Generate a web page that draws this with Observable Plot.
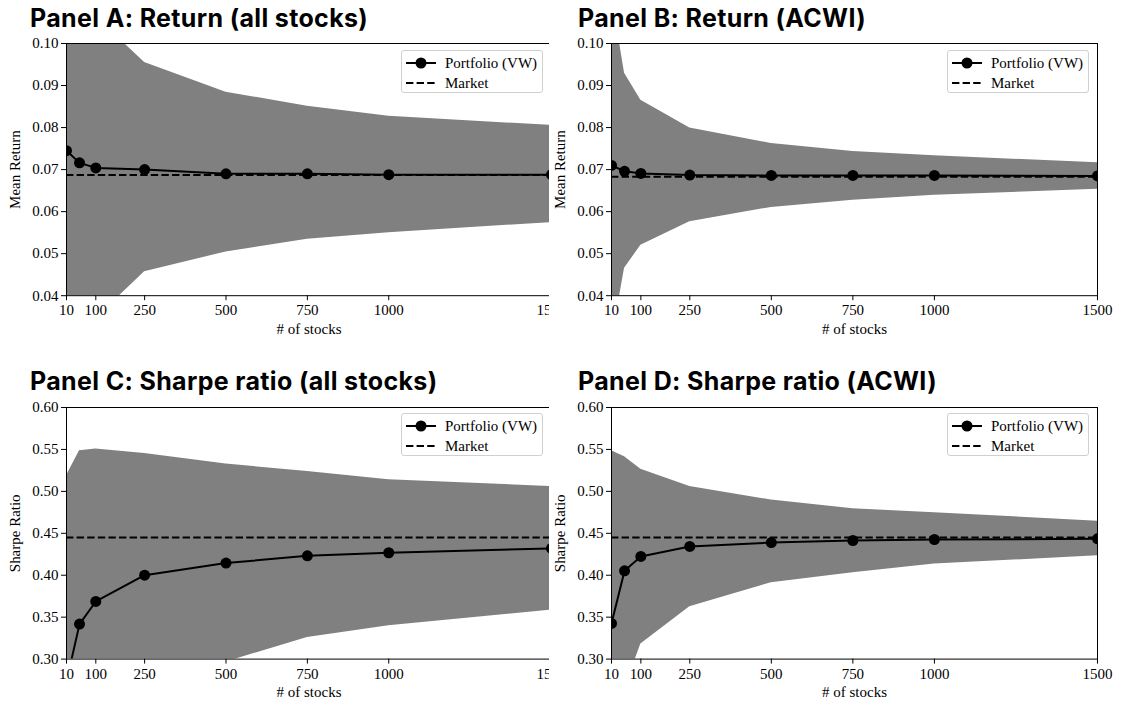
<!DOCTYPE html>
<html>
<head>
<meta charset="utf-8">
<script src="https://cdn.jsdelivr.net/npm/d3@7"></script>
<script src="https://cdn.jsdelivr.net/npm/@observablehq/plot@0.6"></script>
<style>
  html, body { margin: 0; padding: 0; background: #fff; }
  #root { position: relative; width: 1123px; height: 704px; overflow: hidden; background: #fff; }
  .title { position: absolute; font-family: Inter, "Noto Sans", sans-serif; font-weight: 700; font-size: 25px; letter-spacing: 0.35px; line-height: 1; color: #000; white-space: nowrap; }
  .panel { position: absolute; overflow: hidden; }
  .panel svg { display: block; max-width: none !important; height: auto; }
  .panel svg, .panel svg text { font-family: "Liberation Serif", "DejaVu Serif", "Times New Roman", serif !important; }
  .legend { position: absolute; box-sizing: border-box; width: 142px; height: 43px; border: 1px solid #d0d0d0; border-radius: 3px; background: rgba(255,255,255,0.85); font-family: "Liberation Serif", "DejaVu Serif", "Times New Roman", serif; font-size: 15px; color: #000; }
  .legend .row { position: absolute; left: 0; height: 20px; width: 100%; }
  .legend .row svg { position: absolute; left: 3px; top: 0; }
  .legend .row span { position: absolute; left: 43px; top: 1px; line-height: 18px; }
</style>
</head>
<body>
<div id="root"></div>
<script>
// ---------- data ----------
const nStocks = [10, 50, 100, 250, 500, 750, 1000, 1500];
const xTicks = [10, 100, 250, 500, 750, 1000, 1500];
const returnTicks = [0.04, 0.05, 0.06, 0.07, 0.08, 0.09, 0.10];
const sharpeTicks = [0.30, 0.35, 0.40, 0.45, 0.50, 0.55, 0.60];

// Panel A: Return (all stocks)
const retAllPortfolio = [0.0745, 0.0716, 0.0704, 0.0700, 0.0690, 0.0690, 0.0688, 0.0688];
const retAllLow  = [-0.026, 0.0216, 0.0346, 0.0457, 0.0504, 0.0534, 0.0550, 0.0574];
const retAllHigh = [0.175, 0.1216, 0.1064, 0.0955, 0.0884, 0.0851, 0.0827, 0.0805];
const retAllMarket = 0.0687;

// Panel B: Return (ACWI)
const retAcwiPortfolio = [0.0710, 0.0696, 0.0691, 0.0687, 0.0686, 0.0686, 0.0686, 0.0685];
const retAcwiLow  = [0.0292, 0.0465, 0.0520, 0.0576, 0.0610, 0.0627, 0.0639, 0.0653];
const retAcwiHigh = [0.1118, 0.0929, 0.0865, 0.0799, 0.0762, 0.0743, 0.0733, 0.0716];
const retAcwiMarket = 0.0683;

// Panel C: Sharpe ratio (all stocks)
const srAllPortfolio = [0.2733, 0.3417, 0.3687, 0.4001, 0.4145, 0.4232, 0.4268, 0.4319];
const srAllLow  = [0.028, 0.135, 0.187, 0.255, 0.2965, 0.3258, 0.3397, 0.3584];
const srAllHigh = [0.5186, 0.5484, 0.5504, 0.5452, 0.5325, 0.5237, 0.5138, 0.5058];
const srAllMarket = 0.445;

// Panel D: Sharpe ratio (ACWI)
const srAcwiPortfolio = [0.3425, 0.4053, 0.4224, 0.4343, 0.4390, 0.4414, 0.4426, 0.4434];
const srAcwiLow  = [0.137, 0.265, 0.3179, 0.3624, 0.3910, 0.4029, 0.4133, 0.4232];
const srAcwiHigh = [0.5484, 0.5412, 0.5265, 0.5058, 0.4896, 0.4792, 0.4744, 0.4645];
const srAcwiMarket = 0.445;

// ---------- layout ----------
const root = document.getElementById("root");
const M = {left: 66, right: 12, top: 8, bottom: 42};

function rows(port, lo, hi) {
  return nStocks.map((n, i) => ({n, port: port[i], lo: lo[i], hi: hi[i]}));
}

function panel({title, titleX, titleY, frameX, frameY, frameW, frameH, clipW, yLabel, yDomain, yTicks, data, market}) {
  const t = document.createElement("div");
  t.className = "title";
  t.style.left = titleX + "px";
  t.style.top = titleY + "px";
  t.textContent = title;
  root.appendChild(t);

  const svgW = M.left + frameW + M.right;
  const svgH = M.top + frameH + M.bottom;
  const box = document.createElement("div");
  box.className = "panel";
  box.style.left = (frameX - M.left) + "px";
  box.style.top = (frameY - M.top) + "px";
  box.style.width = (clipW != null ? clipW - (frameX - M.left) : svgW) + "px";
  box.style.height = svgH + "px";
  if (clipW == null) box.style.overflow = "visible";

  const chart = Plot.plot({
    width: svgW,
    height: svgH,
    marginLeft: M.left, marginRight: M.right, marginTop: M.top, marginBottom: M.bottom,
    style: {fontFamily: "'Liberation Serif', serif", fontSize: "15px", color: "#000", background: "transparent", overflow: "visible", maxWidth: "none"},
    x: {domain: [10, 1500], ticks: xTicks, tickFormat: d => String(d), tickSize: 5, tickPadding: 4,
        label: "# of stocks", labelAnchor: "center", labelOffset: 38, labelArrow: "none"},
    y: {domain: yDomain, ticks: yTicks, tickFormat: ".2f", tickSize: 5, tickPadding: 3,
        label: yLabel, labelAnchor: "center", labelOffset: 57, labelArrow: "none"},
    marks: [
      Plot.areaY(data, {x: "n", y1: "lo", y2: "hi", fill: "#808080", clip: true}),
      Plot.ruleY([market], {stroke: "#000", strokeWidth: 2, strokeDasharray: "7.4,3.2", clip: true}),
      Plot.line(data, {x: "n", y: "port", stroke: "#000", strokeWidth: 2, clip: true}),
      Plot.dot(data, {x: "n", y: "port", r: 5.5, fill: "#000", stroke: "none", clip: true}),
      Plot.frame({stroke: "#000", strokeWidth: 1})
    ]
  });
  chart.style.width = svgW + "px";
  chart.style.height = svgH + "px";
  box.appendChild(chart);

  // legend (top right inside the frame)
  const lg = document.createElement("div");
  lg.className = "legend";
  lg.style.left = (M.left + frameW - 8 - 142) + "px";
  lg.style.top = (M.top + 6.7) + "px";
  lg.innerHTML =
    `<div class="row" style="top:2px"><svg width="34" height="20"><line x1="1" x2="31" y1="10" y2="10" stroke="#000" stroke-width="2"/><circle cx="16" cy="10" r="5.5" fill="#000"/></svg><span>Portfolio (VW)</span></div>` +
    `<div class="row" style="top:22px"><svg width="34" height="20"><line x1="1" x2="31" y1="10" y2="10" stroke="#000" stroke-width="2" stroke-dasharray="7.4,3.2"/></svg><span>Market</span></div>`;
  box.appendChild(lg);

  root.appendChild(box);
}

panel({title: "Panel A: Return (all stocks)", titleX: 30, titleY: 6,
  frameX: 66, frameY: 43.3, frameW: 485, frameH: 252.2, clipW: 549,
  yLabel: "Mean Return", yDomain: [0.04, 0.10], yTicks: returnTicks,
  data: rows(retAllPortfolio, retAllLow, retAllHigh), market: retAllMarket});

panel({title: "Panel B: Return (ACWI)", titleX: 578, titleY: 6,
  frameX: 611, frameY: 43.3, frameW: 486, frameH: 252.2, clipW: null,
  yLabel: "Mean Return", yDomain: [0.04, 0.10], yTicks: returnTicks,
  data: rows(retAcwiPortfolio, retAcwiLow, retAcwiHigh), market: retAcwiMarket});

panel({title: "Panel C: Sharpe ratio (all stocks)", titleX: 30, titleY: 369,
  frameX: 66, frameY: 406.7, frameW: 485, frameH: 251.6, clipW: 549,
  yLabel: "Sharpe Ratio", yDomain: [0.30, 0.60], yTicks: sharpeTicks,
  data: rows(srAllPortfolio, srAllLow, srAllHigh), market: srAllMarket});

panel({title: "Panel D: Sharpe ratio (ACWI)", titleX: 578, titleY: 369,
  frameX: 611, frameY: 406.7, frameW: 486, frameH: 251.6, clipW: null,
  yLabel: "Sharpe Ratio", yDomain: [0.30, 0.60], yTicks: sharpeTicks,
  data: rows(srAcwiPortfolio, srAcwiLow, srAcwiHigh), market: srAcwiMarket});
</script>
</body>
</html>
